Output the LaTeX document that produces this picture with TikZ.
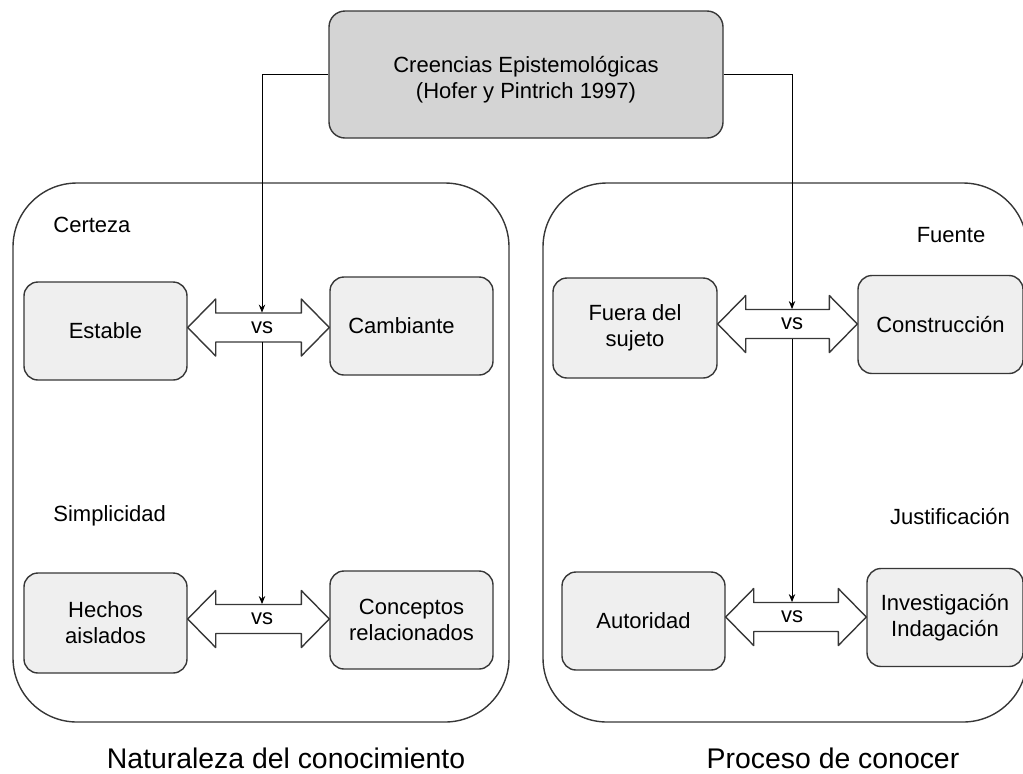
\documentclass[tikz,border=0pt]{standalone}
\usepackage{fontspec}
\setmainfont{Liberation Sans}
\usetikzlibrary{calc,arrows.meta}
\definecolor{topgray}{RGB}{212,212,212}
\definecolor{subgray}{RGB}{239,239,239}
\definecolor{edgegray}{RGB}{55,55,55}

\begin{document}
\begin{tikzpicture}[x=0.5pt, y=-0.5pt, font=\fontsize{11}{13}\selectfont]

    \newcommand{\vsarrow}[3]{\draw[edge] (#2.east |- #1) -- ++(28,-28.5) -- ++(0,14) -- ($(#3.west |- #1)+(-28,-14.5)$) -- ++(0,-14) -- (#3.west |- #1) -- ++(-28,28.5) -- ++(0,-14) -- ($(#2.east |- #1)+(28,14.5)$) -- ++(0,14) -- cycle}

    \tikzstyle{edge}=[draw=edgegray, line width=0.7pt, line join=round]
    \tikzstyle{bigbox}=[edge, rounded corners=32pt]
    \tikzstyle{topbox}=[edge, fill=topgray, rounded corners=8pt, minimum width=197pt, minimum height=63.5pt, align=center]
    \tikzstyle{subbox}=[edge, fill=subgray, rounded corners=7pt, minimum width=81.5pt, minimum height=49pt, align=center]
    \tikzstyle{vsnode}=[inner sep=0pt, minimum width=10pt, minimum height=14.5pt]
    \tikzstyle{tag}=[inner sep=0pt]
    \tikzstyle{caption}=[inner sep=0pt, font=\fontsize{14.2}{17}\selectfont]
    \tikzstyle{link}=[line width=0.5pt, -{Stealth[length=4pt, width=3.2pt]}]

    \useasboundingbox (0,0) rectangle (1023,773);
    \clip (0,0) rectangle (1023,773);

    % the two groups
    \draw[bigbox] (13,183) rectangle (509,722);
    \draw[bigbox] (543,183) rectangle (1027,722);

    \node[topbox] (creencias) at (526,74.5) {\raisebox{-2.5pt}[\height][\depth]{\parbox{190pt}{\centering Creencias Epistemológicas\\(Hofer y Pintrich 1997)}}};

    \node[subbox] (estable) at (105.5,331) {Estable};
    \node[subbox] (cambiante) at (411.5,326) {Cambiante\hspace{10pt}};
    \node[subbox, minimum height=50pt] (hechos) at (105.5,623) {Hechos\\aislados};
    \node[subbox] (conceptos) at (411.5,620) {Conceptos\\relacionados};
    \node[subbox, minimum width=82pt, minimum height=50pt] (fuera) at (635,328) {Fuera del\\sujeto};
    \node[subbox, minimum width=82.5pt] (construccion) at (940.5,324.5) {Construcción};
    \node[subbox] (autoridad) at (643.5,621) {Autoridad};
    \node[subbox, minimum width=78pt] (investigacion) at (945,617.5) {Investigación\\Indagación};

    \node[tag, anchor=west] (certeza) at (53,225) {Certeza};
    \node[tag, anchor=west] (simplicidad) at (53,516) {Simplicidad};
    \node[tag] (fuente) at (951,235) {Fuente};
    \node[tag] (justificacion) at (950,516) {Justificación};
    \node[caption] (naturaleza) at (286,758) {Naturaleza del conocimiento};
    \node[caption] (proceso) at (833,758) {Proceso de conocer};

    \node[vsnode] (vsa) at (262,327.5) {vs};
    \node[vsnode] (vsb) at (262,619) {vs};
    \node[vsnode] (vsc) at (792,324) {vs};
    \node[vsnode] (vsd) at (792,617) {vs};

    \foreach \v/\l/\r in {vsa/estable/cambiante, vsb/hechos/conceptos, vsc/fuera/construccion, vsd/autoridad/investigacion} {
        \vsarrow{\v}{\l}{\r};
    }

    \draw[link] (creencias.west) -| (vsa.north);
    \draw[link] (vsa.south) -- (vsb.north);
    \draw[link] (creencias.east) -| (vsc.north);
    \draw[link] (vsc.south) -- (vsd.north);

\end{tikzpicture}
\end{document}
